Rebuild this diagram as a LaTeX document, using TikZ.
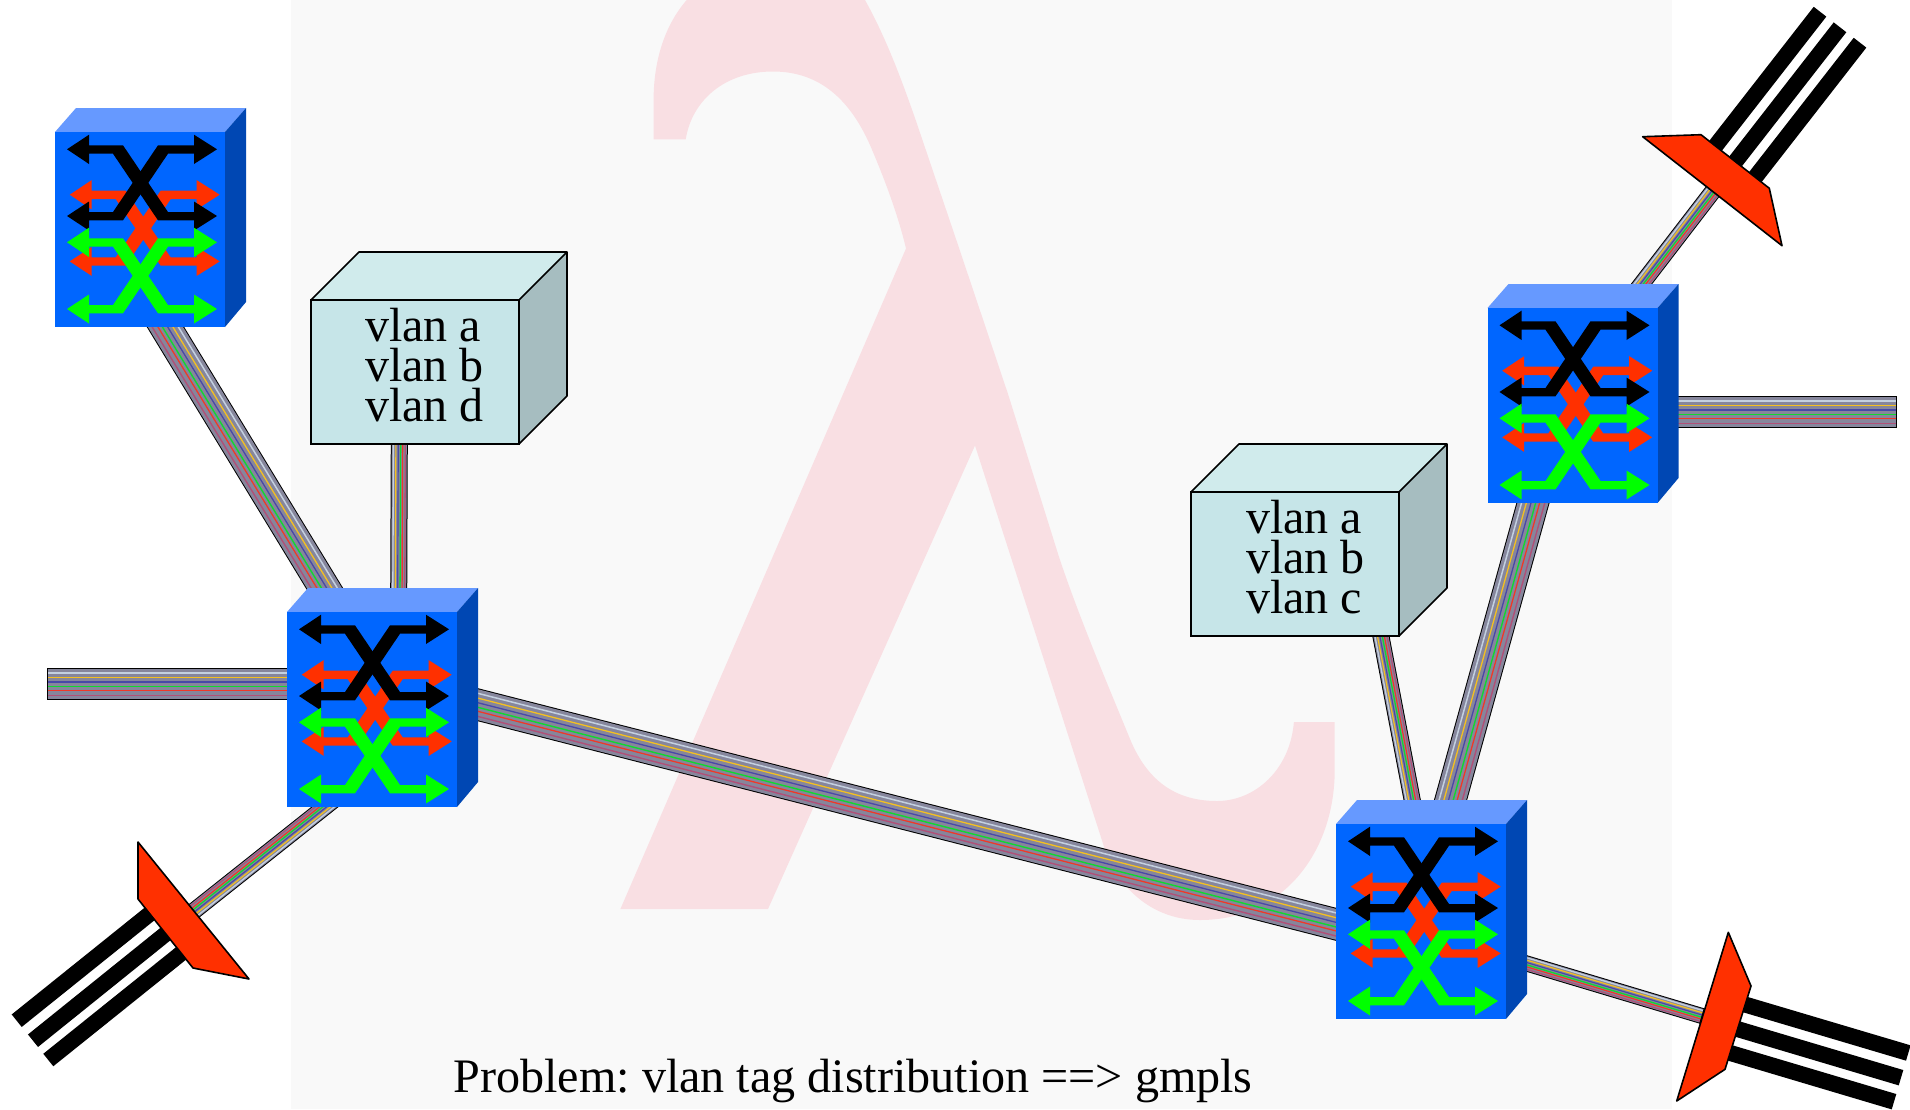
\documentclass[tikz,border=0pt]{standalone}
\usepackage{fontspec}
\setmainfont{Liberation Serif}
\frenchspacing
\usetikzlibrary{calc}
\definecolor{bgc}{HTML}{F9F9F9}
\definecolor{lam}{HTML}{F9DFE3}
\definecolor{swf}{HTML}{0066FF}
\definecolor{swt}{HTML}{6699FF}
\definecolor{sws}{HTML}{0047B3}
\definecolor{xred}{HTML}{FF3000}
\definecolor{xgreen}{HTML}{00FF00}
\definecolor{boxf}{HTML}{C6E5E8}
\definecolor{boxt}{HTML}{D0EBEC}
\definecolor{boxs}{HTML}{A6BDC0}
\definecolor{cbase}{HTML}{86869C}
\definecolor{clight}{HTML}{C4D0E0}
\definecolor{cyellow}{HTML}{F4C020}
\definecolor{cblue}{HTML}{4848A8}
\definecolor{cgreen}{HTML}{10D830}
\definecolor{cred}{HTML}{F03828}
\definecolor{cpurple}{HTML}{B05078}
\tikzset{
  swfront/.style={fill=swf,draw=none,minimum width=170pt,minimum height=195pt,inner sep=0pt,outer sep=0pt,anchor=north west},
  boxfront/.style={fill=boxf,draw=black,line width=1.6pt,minimum width=208pt,minimum height=144pt,inner sep=0pt,outer sep=0pt,anchor=north west},
  boxface/.style={draw=black,line width=1.6pt,line join=round},
  boxtext/.style={font=\fontsize{48}{40}\selectfont,align=left,inner sep=0pt,anchor=north west},
  captiontext/.style={font=\fontsize{48.1}{50}\selectfont,inner sep=0pt,anchor=base west},
  bar/.style={draw=black,line width=16pt},
  reflector/.style={fill=xred,draw=black,line width=1.6pt,line join=round},
}
\newcommand{\cable}[3]{%
  \draw[black,line width=#3pt] (#1) -- (#2);
  \draw[cbase,line width={#3pt-2pt}] (#1) -- (#2);
  \foreach \f/\c/\t in {.345/clight/1.5,.20/cyellow/1.3,.06/cblue/1.3,-.08/cgreen/1.4,-.20/cred/1.3,-.355/cpurple/1.4}{
    \pgfmathsetmacro\o{\f*#3}
    \pgfmathsetmacro\lw{\t*(0.8+0.2*#3/32)}
    \draw[draw=\c,line width=\lw pt] ($(#1)!\o pt!90:(#2)$) -- ($(#2)!\o pt!-90:(#1)$);
  }
  \pgfmathsetmacro\h{#3/2}
  \draw[black,line width=1pt] ($(#1)!\h pt!90:(#2)$) -- ($(#1)!\h pt!-90:(#2)$);
  \draw[black,line width=1pt] ($(#2)!\h pt!90:(#1)$) -- ($(#2)!\h pt!-90:(#1)$);
}
\newcommand{\crossing}[3]{%
  \begin{scope}[shift={(#2,#3)}]
    \fill[#1] (12,17.3) -- (34,2.7) -- (34,13.3) -- (68,13.3) -- (113,80) -- (139,80) -- (139,69.5) -- (162,84) -- (139,98.5) -- (139,88.3) -- (103,88.3) -- (58,21.7) -- (34,21.7) -- (34,32) -- cycle;
    \fill[#1] (12,84) -- (34,69.5) -- (34,80) -- (58,80) -- (103,13.3) -- (139,13.3) -- (139,2.7) -- (162,17.3) -- (139,32) -- (139,21.7) -- (113,21.7) -- (68,88.3) -- (34,88.3) -- (34,98.5) -- cycle;
  \end{scope}
}
\newcommand{\switch}[3]{%
  \fill[swt] (#2,#3) -- ++(21,-24) -- ++(170,0) -- ++(-21,24) -- cycle;
  \fill[sws] (#2+170,#3) -- ++(21,-24) -- ++(0,194) -- ++(-21,25) -- cycle;
  \node[swfront] (#1) at (#2,#3) {};
  \begin{scope}[shift={(#2,#3)}]
    \crossing{xred}{2.7}{45.4}
    \crossing{black}{0}{0}
    \crossing{xgreen}{0}{93}
  \end{scope}
}
\newcommand{\vlanbox}[3]{%
  \fill[boxt] (#2,#3) -- ++(48,-48) -- ++(208,0) -- ++(-48,48) -- cycle;
  \fill[boxs] (#2+208,#3) -- ++(48,-48) -- ++(0,144) -- ++(-48,48) -- cycle;
  \draw[boxface] (#2,#3) -- ++(48,-48) -- ++(208,0) -- ++(0,144) -- ++(-48,48);
  \draw[boxface] (#2+208,#3) -- ++(48,-48);
  \node[boxfront] (#1) at (#2,#3) {};
}
\begin{document}
\begin{tikzpicture}[x=1pt,y=-1pt]
\useasboundingbox (0,0) rectangle (1910,1109);
\fill[white] (0,0) rectangle (1910,1109);
\fill[bgc] (291,0) rectangle (1672,1109);
% big lambda watermark
\fill[lam] (686.7,0) .. controls (665,25) and (653.6,60) .. (653.6,100) -- (653.6,139.4) -- (685.7,139.4)
  .. controls (692,100) and (725,71.5) .. (773,71.5) .. controls (820,71.5) and (850,100) .. (870,145)
  .. controls (885,180) and (898,215) .. (906,248.5) -- (620.4,909) -- (768,909) -- (975,445.5) -- (1102.5,842)
  .. controls (1115,885) and (1150,920) .. (1200,920) .. controls (1285,920) and (1334.7,850) .. (1334.7,770)
  -- (1334.7,722) -- (1293.9,722) .. controls (1290,770) and (1255,801) .. (1217,801)
  .. controls (1170,801) and (1145,775) .. (1130,739)
  .. controls (1110,690) and (1080,620) .. (1059,557) -- (1008,394) -- (957,242) -- (916,121)
  .. controls (900,75) and (885,36) .. (865,0) -- cycle;
% cable ends
\coordinate (s1d) at (160,318);
\coordinate (s2u) at (339,612);
\coordinate (b1d) at (399.3,440);
\coordinate (s2b) at (398.6,620);
\coordinate (stubL) at (47,684);
\coordinate (s2l) at (300,684);
\coordinate (s2dl) at (350,787);
\coordinate (rLL) at (180,922);
\coordinate (s2r) at (440,695);
\coordinate (s4l) at (1370,933);
\coordinate (s4r) at (1500,955.5);
\coordinate (rLR) at (1702,1016);
\coordinate (b2d) at (1380.2,632.5);
\coordinate (s4u) at (1416,820);
\coordinate (s3d) at (1536,492);
\coordinate (s4v) at (1445,820);
\coordinate (s3r) at (1660,412);
\coordinate (stubR) at (1896,412);
\coordinate (s3u) at (1610,325);
\coordinate (rUR) at (1720,182);
% cables
\cable{s1d}{s2u}{32}
\cable{s2b}{b1d}{17}
\cable{stubL}{s2l}{32}
\cable{s2dl}{rLL}{17}
\cable{s2r}{s4l}{32}
\cable{s4r}{rLR}{16}
\cable{s4u}{b2d}{17}
\cable{s4v}{s3d}{32}
\cable{s3r}{stubR}{32}
\cable{s3u}{rUR}{17}
% reflectors with fibres
\coordinate (f1a) at (16.7,1020.7); \coordinate (f1b) at (152,912);
\coordinate (f2a) at (33,1040.7);   \coordinate (f2b) at (168,932);
\coordinate (f3a) at (48.3,1060);   \coordinate (f3b) at (183.7,951.3);
\draw[bar] (f1a) -- (f1b); \draw[bar] (f2a) -- (f2b); \draw[bar] (f3a) -- (f3b);
\filldraw[reflector] (138,842) -- (249,979) -- (193,968) -- (138,899) -- cycle;
\coordinate (g1a) at (1820,11.7);   \coordinate (g1b) at (1711.7,150.7);
\coordinate (g2a) at (1840,27.3);   \coordinate (g2b) at (1731.7,166.3);
\coordinate (g3a) at (1860,42.7);   \coordinate (g3b) at (1751.7,181.7);
\draw[bar] (g1a) -- (g1b); \draw[bar] (g2a) -- (g2b); \draw[bar] (g3a) -- (g3b);
\filldraw[reflector] (1642.7,136.7) -- (1701,134.7) -- (1769.3,188.3) -- (1782,245.7) -- cycle;
\coordinate (h1a) at (1908.3,1053);  \coordinate (h1b) at (1742.3,1003.7);
\coordinate (h2a) at (1901,1077.7);  \coordinate (h2b) at (1735,1028.3);
\coordinate (h3a) at (1894,1101.7);  \coordinate (h3b) at (1728,1052.3);
\draw[bar] (h1a) -- (h1b); \draw[bar] (h2a) -- (h2b); \draw[bar] (h3a) -- (h3b);
\filldraw[reflector] (1728.3,932.3) -- (1751,986) -- (1725,1069.3) -- (1676.7,1101) -- cycle;
% vlan boxes
\vlanbox{box1}{311}{300}
\node[boxtext] (box1t) at (365,307.5) {vlan a\\vlan b\\vlan d};
\vlanbox{box2}{1191}{492}
\node[boxtext] (box2t) at (1246,499.5) {vlan a\\vlan b\\vlan c};
% switches
\switch{sw1}{55}{132}
\switch{sw2}{287}{612}
\switch{sw3}{1487.5}{308}
\switch{sw4}{1336}{824}
% caption
\node[captiontext] (cap) at (453.5,1092.5) {Problem: vlan tag distribution ==> gmpls};
\end{tikzpicture}
\end{document}
